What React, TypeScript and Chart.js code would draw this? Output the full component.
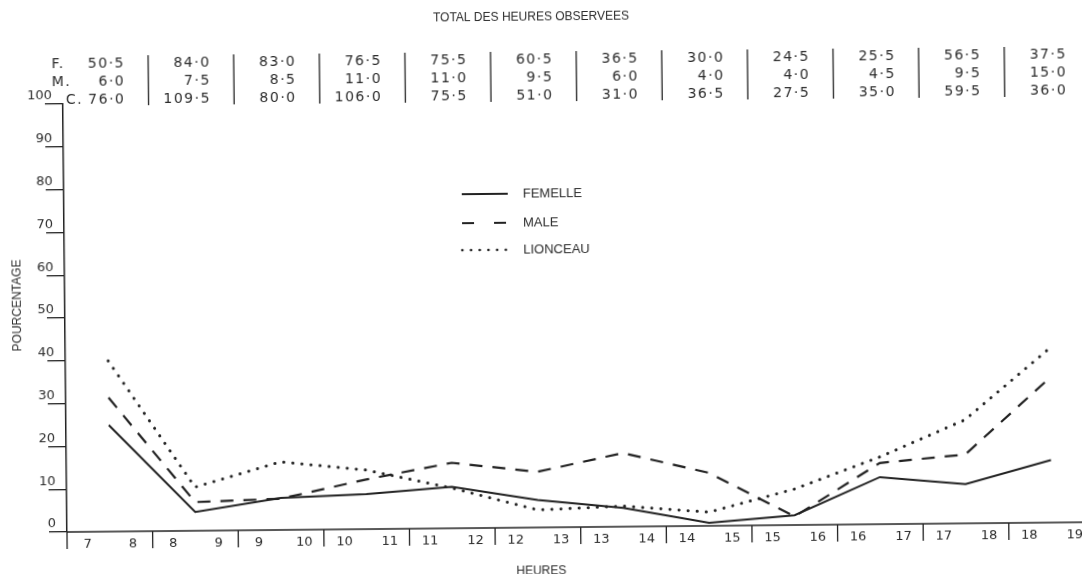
import React, { useEffect, useRef } from "react";
import { Chart, registerables } from "chart.js";

Chart.register(...registerables);

// ---- data ----
const hourStart = [7, 8, 9, 10, 11, 12, 13, 14, 15, 16, 17, 18];
const hourEnd = [8, 9, 10, 11, 12, 13, 14, 15, 16, 17, 18, 19];

const femelle = [24.9, 4.4, 7.5, 8.2, 9.7, 6.4, 4.4, 0.7, 2.3, 11.0, 9.2, 14.6];
const male = [31.3, 6.7, 7.3, 11.6, 15.3, 13.0, 17.2, 12.4, 2.0, 14.3, 16.1, 33.9];
const lionceau = [39.9, 10.2, 15.9, 13.8, 9.4, 4.1, 4.8, 3.2, 8.4, 15.7, 24.2, 40.8];

const heuresF = [50.5, 84.0, 83.0, 76.5, 75.5, 60.5, 36.5, 30.0, 24.5, 25.5, 56.5, 37.5];
const heuresM = [6.0, 7.5, 8.5, 11.0, 11.0, 9.5, 6.0, 4.0, 4.0, 4.5, 9.5, 15.0];
const heuresC = [76.0, 109.5, 80.0, 106.0, 75.5, 51.0, 31.0, 36.5, 27.5, 35.0, 59.5, 36.0];

const rowLabels = ["F.", "M.", "C."];
const seriesNames = ["FEMELLE", "MALE", "LIONCEAU"];
const titleText = "TOTAL DES HEURES OBSERVEES";
const yTitle = "POURCENTAGE";
const xTitle = "HEURES";

const Y_MIN = 0;
const Y_MAX = 100;
const Y_STEP = 10;
const X_MAX = 11.89; // visible part of the 12 hour intervals

const INK = "#222222";
const TXT = "#2c2c2c";
const LETTER = "'DejaVu Sans', sans-serif";
const SANS = "'Liberation Sans', Arial, sans-serif";

const fmt = (v: number) => v.toFixed(1).replace(".", "·");

const toPoints = (arr: number[]) => arr.map((v, i) => ({ x: i + 0.5, y: v }));

const decorPlugin = {
  id: "decor",
  afterDraw(chart: any) {
    const ctx = chart.ctx as CanvasRenderingContext2D;
    const xs = chart.scales.x;
    const ys = chart.scales.y;
    const base = ys.getPixelForValue(0);
    const left = chart.chartArea.left;
    const right = chart.chartArea.right;
    ctx.save();

    // x baseline
    ctx.strokeStyle = INK;
    ctx.lineWidth = 1.5;
    ctx.beginPath();
    ctx.moveTo(left, base);
    ctx.lineTo(right, base);
    ctx.stroke();

    // interval separators below the axis
    ctx.lineWidth = 1.3;
    for (let k = 0; k < hourStart.length; k++) {
      const px = xs.getPixelForValue(k);
      ctx.beginPath();
      ctx.moveTo(px, base);
      ctx.lineTo(px, base + 17);
      ctx.stroke();
    }

    // x labels
    ctx.fillStyle = TXT;
    ctx.font = `13px ${LETTER}`;
    ctx.textAlign = "center";
    ctx.textBaseline = "middle";
    for (let k = 0; k < hourStart.length; k++) {
      ctx.fillText(String(hourStart[k]), xs.getPixelForValue(k + 0.24), base + 13);
      ctx.fillText(String(hourEnd[k]), xs.getPixelForValue(k + 0.77), base + 13);
    }

    // table of observed hours
    const rows = [heuresF, heuresM, heuresC];
    const rowY = [64, 82, 100];
    const labelX = [56, 56, 70];
    ctx.font = `14px ${LETTER}`;
    (ctx as any).letterSpacing = "1.5px";
    for (let r = 0; r < rows.length; r++) {
      ctx.textAlign = "left";
      ctx.fillText(rowLabels[r], labelX[r], rowY[r]);
      ctx.textAlign = "right";
      for (let k = 0; k < rows[r].length; k++) {
        ctx.fillText(fmt(rows[r][k]), xs.getPixelForValue(k + 0.73), rowY[r]);
      }
    }
    (ctx as any).letterSpacing = "0px";
    ctx.lineWidth = 1.3;
    for (let k = 1; k < hourStart.length; k++) {
      const px = xs.getPixelForValue(k);
      ctx.beginPath();
      ctx.moveTo(px, 56);
      ctx.lineTo(px, 106);
      ctx.stroke();
    }

    // title
    ctx.font = `12px ${SANS}`;
    ctx.textAlign = "center";
    ctx.fillText(titleText, 536, 22);

    // axis titles
    ctx.font = `12px ${SANS}`;
    ctx.fillText(xTitle, 541, 576);
    ctx.save();
    ctx.translate(20, 305);
    ctx.rotate(-Math.PI / 2);
    ctx.fillText(yTitle, 0, 0);
    ctx.restore();

    // legend
    const ly = [198, 227, 254];
    const lx0 = 465;
    const lx1 = 511;
    ctx.strokeStyle = INK;
    ctx.lineWidth = 2;
    ctx.beginPath();
    ctx.moveTo(lx0, ly[0]);
    ctx.lineTo(lx1, ly[0]);
    ctx.stroke();
    ctx.lineWidth = 2.2;
    ctx.setLineDash([12, 20]);
    ctx.beginPath();
    ctx.moveTo(lx0, ly[1]);
    ctx.lineTo(lx1, ly[1]);
    ctx.stroke();
    ctx.setLineDash([0.1, 8.6]);
    ctx.lineCap = "round";
    ctx.lineWidth = 2.6;
    ctx.beginPath();
    ctx.moveTo(lx0, ly[2]);
    ctx.lineTo(lx1, ly[2]);
    ctx.stroke();
    ctx.setLineDash([]);
    ctx.font = `13px ${SANS}`;
    ctx.textAlign = "left";
    for (let i = 0; i < seriesNames.length; i++) {
      ctx.fillText(seriesNames[i], 526, ly[i]);
    }
    ctx.restore();
  },
};

export default function App() {
  const ref = useRef<HTMLCanvasElement | null>(null);

  useEffect(() => {
    document.body.style.margin = "0";
    const canvas = ref.current;
    if (!canvas) return;
    const chart = new Chart(canvas, {
      type: "line",
      data: {
        datasets: [
          {
            label: seriesNames[0],
            data: toPoints(femelle),
            borderColor: INK,
            borderWidth: 2,
            pointRadius: 0,
            tension: 0,
            fill: false,
          },
          {
            label: seriesNames[1],
            data: toPoints(male),
            borderColor: INK,
            borderWidth: 2.2,
            borderDash: [13, 10],
            pointRadius: 0,
            tension: 0,
            fill: false,
          },
          {
            label: seriesNames[2],
            data: toPoints(lionceau),
            borderColor: INK,
            borderWidth: 3,
            borderDash: [0.1, 9],
            borderCapStyle: "round",
            pointRadius: 0,
            tension: 0,
            fill: false,
          },
        ],
      },
      options: {
        responsive: false,
        animation: false,
        devicePixelRatio: 1,
        layout: { padding: { top: 104, bottom: 600 - 532, left: 0, right: 15 } },
        plugins: {
          legend: { display: false },
          tooltip: { enabled: false },
          title: { display: false },
        },
        scales: {
          x: { type: "linear", min: 0, max: X_MAX, display: false },
          y: {
            type: "linear",
            min: Y_MIN,
            max: Y_MAX,
            afterFit: (s: any) => {
              s.width = 67;
            },
            ticks: {
              stepSize: Y_STEP,
              padding: -7,
              labelOffset: -8,
              color: TXT,
              font: { family: LETTER, size: 13 },
            },
            grid: {
              drawOnChartArea: false,
              drawTicks: true,
              tickLength: 18,
              color: INK,
              lineWidth: 1.3,
            },
            border: { display: true, color: INK, width: 1.5 },
          },
        },
      },
      plugins: [decorPlugin],
    } as any);
    return () => chart.destroy();
  }, []);

  return (
    <div style={{ width: 1082, height: 574, overflow: "hidden", position: "relative", background: "#fff" }}>
      <canvas
        ref={ref}
        width={1100}
        height={600}
        style={{
          position: "absolute",
          left: 0,
          top: 0,
          width: 1100,
          height: 600,
          transform: "rotate(-0.55deg)",
          transformOrigin: "67px 532px",
        }}
      />
    </div>
  );
}
